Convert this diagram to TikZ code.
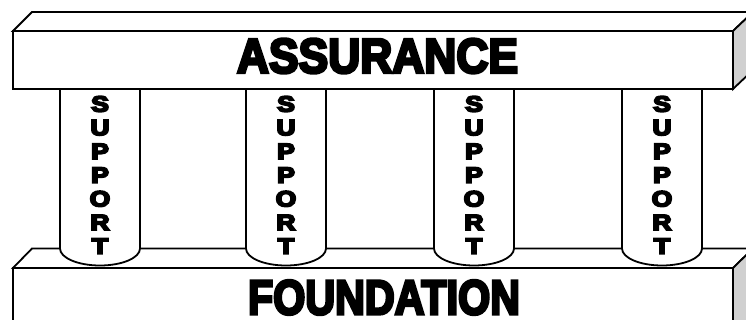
\documentclass[tikz,border=0pt]{standalone}
\usepackage{fontspec}
\usepackage{graphicx}
\newfontfamily\heavy{Liberation Sans}[UprightFont={* Bold},FakeBold=6]
\newfontfamily\heavyl{Liberation Sans}[UprightFont={* Bold},FakeBold=8]
\definecolor{sidegray}{HTML}{D0D0D0}
\newcommand{\pletter}[1]{\scalebox{1.2}[1]{\fontsize{22}{22}\heavyl #1}}
\tikzset{
  edge/.style={draw=black,line width=1.8pt,line join=miter},
  face/.style={edge,fill=white},
  side/.style={edge,fill=sidegray},
  pillar/.style={edge,fill=white},
  letter/.style={inner sep=0pt},
  title/.style={inner sep=0pt}
}
\begin{document}
\begin{tikzpicture}[x=1pt,y=-1pt]
\useasboundingbox (0,0) rectangle (746,320);
\clip (0,0) rectangle (746,320);
% bottom beam
\path[face] (13,268) -- (32,248.5) -- (753,248.5) -- (733,268) -- cycle;
\path[face] (13,268) rectangle (733,340);
\path[side] (733,268) -- (753,248.5) -- (753,340) -- (733,340) -- cycle;
% pillars
\foreach \i/\x in {1/60,2/246,3/434,4/622}{
  \path[pillar] (\x,89) -- (\x,248.5) arc[start angle=180,end angle=0,x radius=40,y radius=17] -- (\x+80,89);
  \foreach \j/\c in {1/S,2/U,3/P,4/P,5/O,6/R,7/T}{
    \node[letter] (p\i l\j) at (\x+40,{104+23.7*(\j-1)}) {\pletter{\c}};
  }
}
% top beam
\path[face] (13,31) -- (32,12) -- (753,12) -- (733,31) -- cycle;
\path[face] (13,31) rectangle (733,89);
\path[side] (733,31) -- (753,12) -- (753,70) -- (733,89) -- cycle;
% titles
\node[title] (assurance) at (377.5,56) {\resizebox{281pt}{34pt}{\heavy ASSURANCE}};
\node[title] (foundation) at (384,297.5) {\resizebox{272pt}{34pt}{\heavy FOUNDATION}};
\end{tikzpicture}
\end{document}
